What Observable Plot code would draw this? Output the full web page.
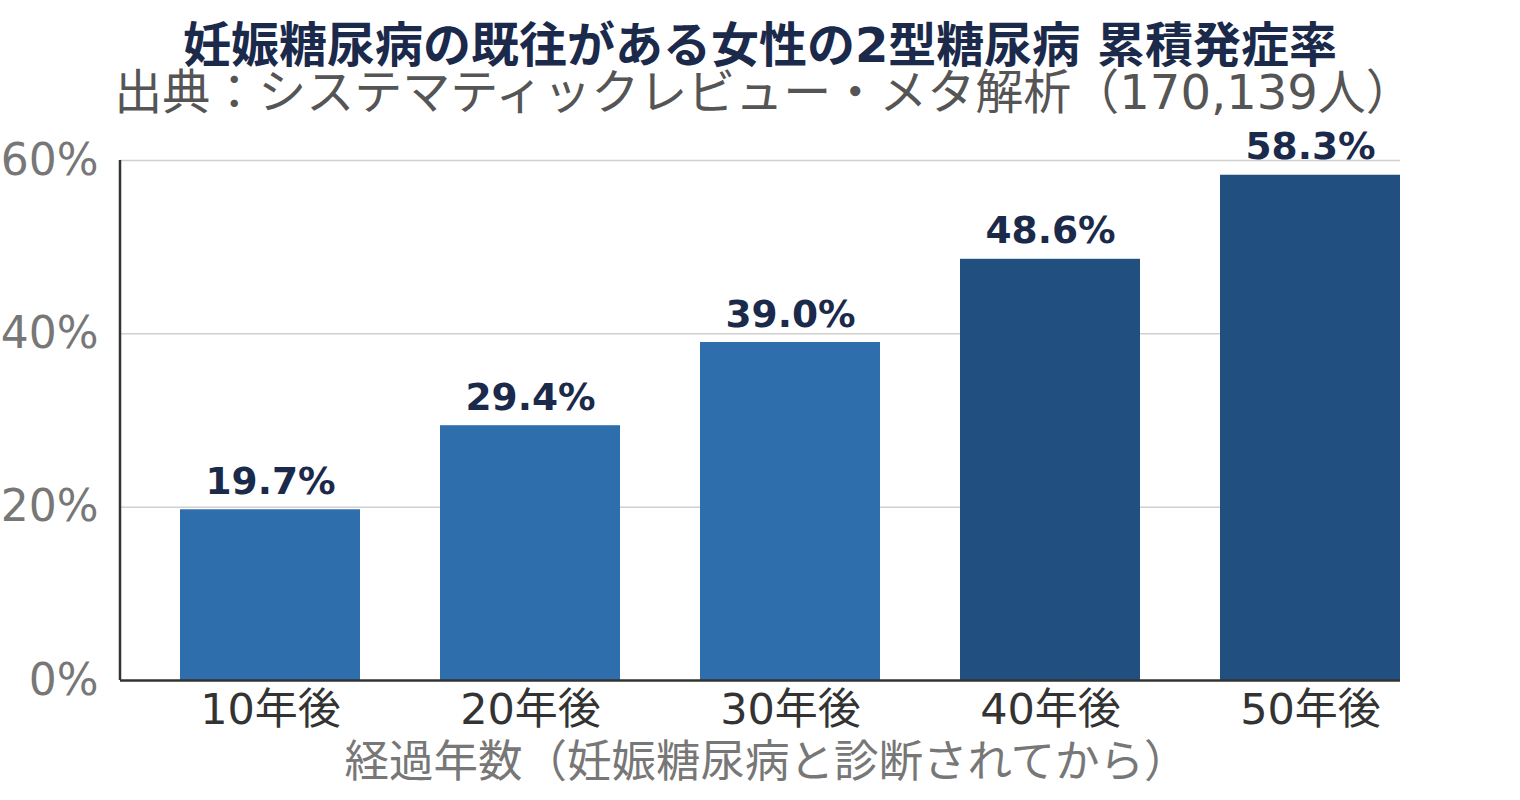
<!DOCTYPE html>
<html>
<head>
<meta charset="utf-8">
<script src="https://cdn.jsdelivr.net/npm/d3@7"></script>
<script src="https://cdn.jsdelivr.net/npm/@observablehq/plot@0.6"></script>
<style>
  html, body { margin: 0; padding: 0; background: #fff; }
  body { width: 1520px; height: 800px; overflow: hidden; font-family: "DejaVu Sans", "Noto Sans CJK JP", sans-serif; }
  #head { position: relative; width: 1520px; height: 120px; }
  #title { position: absolute; left: 0; width: 1520px; top: 25px; text-align: center; font-size: 48px; line-height: 40px; font-weight: bold; color: #1b2a4b; white-space: nowrap; }
  #subtitle { position: absolute; left: 4px; width: 1520px; top: 72px; text-align: center; font-size: 48px; line-height: 40px; color: #555; white-space: nowrap; }
  #chart svg { display: block; overflow: visible; }
</style>
</head>
<body>
<div id="head">
  <div id="title"></div>
  <div id="subtitle"></div>
</div>
<div id="chart"></div>
<script>
const titleText = "妊娠糖尿病の既往がある女性の2型糖尿病 累積発症率";
const subtitleText = "出典：システマティックレビュー・メタ解析（170,139人）";
const xAxisLabel = "経過年数（妊娠糖尿病と診断されてから）";
const categories = ["10年後", "20年後", "30年後", "40年後", "50年後"];
const values = [19.7, 29.4, 39.0, 48.6, 58.3];
const yTicks = [0, 20, 40, 60];

document.getElementById("title").textContent = titleText;
document.getElementById("subtitle").textContent = subtitleText;

const data = categories.map((c, i) => ({cat: c, val: values[i], idx: i}));
const light = "#2e6ead", dark = "#204f80";

const leftAxisLine = (index, scales, values, dims) => {
  const g = d3.create("svg:line")
    .attr("x1", dims.marginLeft).attr("x2", dims.marginLeft)
    .attr("y1", scales.y(60)).attr("y2", scales.y(0))
    .attr("stroke", "#333").attr("stroke-width", 2.5);
  return g.node();
};

const chart = Plot.plot({
  width: 1520,
  height: 680,
  marginTop: 40,
  marginBottom: 120,
  marginLeft: 120,
  marginRight: 120,
  style: {fontFamily: "'DejaVu Sans', 'Noto Sans CJK JP', sans-serif", background: "#fff", overflow: "visible"},
  x: {domain: categories, range: [180, 1400], paddingInner: 80 / 260, paddingOuter: 0, label: null},
  y: {domain: [0, 60], label: null},
  marks: [
    Plot.gridY(yTicks.filter(t => t > 0), {stroke: "#d0d0d0", strokeOpacity: 1, strokeWidth: 1.5}),
    Plot.barY(data, {x: "cat", y: "val", fill: d => d.idx < 3 ? light : dark}),
    Plot.ruleY([0], {stroke: "#333", strokeWidth: 2.5}),
    leftAxisLine,
    Plot.axisY({ticks: yTicks, tickFormat: d => d + "%", tickSize: 0, tickPadding: 22, fontSize: 44, color: "#777", label: null}),
    Plot.axisX({tickSize: 0, tickPadding: 13, fontSize: 43, color: "#333", label: null}),
    Plot.text(data, {x: "cat", y: "val", text: d => d.val.toFixed(1) + "%", lineAnchor: "bottom", dy: -16, fontSize: 37.5, fontWeight: "bold", fill: "#1b2a4b"}),
    Plot.text([xAxisLabel], {text: d => d, frameAnchor: "bottom", lineAnchor: "middle", dy: 82, dx: 6, fontSize: 44.5, fill: "#777"})
  ]
});
document.getElementById("chart").appendChild(chart);
</script>
</body>
</html>
